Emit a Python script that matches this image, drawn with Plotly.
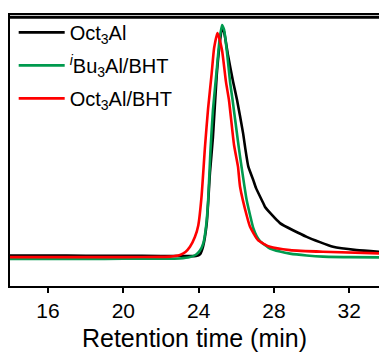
import plotly.graph_objects as go

# Retention time (min) and normalized intensity
oct3al_x = [13.98, 16.0, 18.0, 20.0, 22.0, 23.0, 23.50, 23.86, 24.07, 24.23, 24.43, 24.60, 24.76, 24.96, 25.11, 25.24,
            25.35, 25.56, 25.83, 26.04, 26.36, 26.49, 26.64, 26.90, 27.05, 27.43, 27.52, 28.32, 29.74, 31.14,
            32.39, 33.58]
oct3al_y = [0.011, 0.011, 0.010, 0.010, 0.009, 0.009, 0.008, 0.009, 0.016, 0.048, 0.150, 0.365, 0.520, 0.785, 0.914, 0.987,
            0.970, 0.870, 0.757, 0.678, 0.536, 0.464, 0.392, 0.335, 0.300, 0.236, 0.220, 0.150, 0.091, 0.048,
            0.034, 0.027]

ibu3al_bht_x = [13.98, 16.0, 18.0, 20.0, 22.0, 23.0, 23.54, 23.85, 24.07, 24.25, 24.40, 24.50, 24.63, 24.76, 24.96, 25.11, 25.24,
                25.35, 25.51, 25.67, 25.80, 26.09, 26.20, 26.55, 26.73, 26.90, 27.08, 27.26, 27.79, 28.32, 28.85,
                29.74, 30.60, 32.00, 33.58]
ibu3al_bht_y = [-0.004, -0.004, -0.004, -0.003, -0.003, -0.002, 0.004, 0.014, 0.032, 0.064, 0.140, 0.240, 0.464, 0.635, 0.807,
                0.936, 1.000, 0.980, 0.880, 0.755, 0.680, 0.500, 0.435, 0.249, 0.185, 0.129, 0.094, 0.073, 0.041,
                0.028, 0.019, 0.011, 0.006, 0.004, 0.003]

oct3al_bht_x = [13.98, 16.0, 18.0, 20.0, 22.0, 22.48, 23.01, 23.30, 23.54, 23.80, 23.98, 24.15, 24.34, 24.50, 24.69, 24.82, 25.00,
                25.24, 25.45, 25.61, 25.88, 26.09, 26.20, 26.57, 26.73, 27.15, 27.79, 28.85, 30.60, 33.58]
oct3al_bht_y = [0.004, 0.004, 0.004, 0.004, 0.005, 0.006, 0.013, 0.026, 0.048, 0.090, 0.140, 0.260, 0.480, 0.640, 0.790, 0.900, 0.966,
                0.893, 0.757, 0.678, 0.485, 0.392, 0.306, 0.177, 0.134, 0.077, 0.048, 0.034, 0.027, 0.020]

x_ticks = [16, 20, 24, 28, 32]

series = [
    ("Oct<sub>3</sub>Al", oct3al_x, oct3al_y, "#000000"),
    ("<sup><i>i</i></sup>Bu<sub>3</sub>Al/BHT", ibu3al_bht_x, ibu3al_bht_y, "#009A4E"),
    ("Oct<sub>3</sub>Al/BHT", oct3al_bht_x, oct3al_bht_y, "#FF0000"),
]

fig = go.Figure()
for i, (name, xs, ys, color) in enumerate(series):
    fig.add_trace(go.Scatter(x=xs, y=ys, mode="lines", name=name, legendgroup=f"g{i}",
                             line=dict(color=color, width=2.6, shape="spline", smoothing=0.5)))

font = "Liberation Sans, Arial, sans-serif"
fig.update_layout(
    width=379, height=352,
    margin=dict(l=10, r=0, t=15, b=66, autoexpand=False),
    plot_bgcolor="white", paper_bgcolor="white",
    font=dict(family=font, color="black"),
    showlegend=True,
    legend=dict(x=0.01, y=1.008, xanchor="left", yanchor="top", bgcolor="rgba(0,0,0,0)",
                font=dict(size=20, family=font), tracegroupgap=4, traceorder="grouped",
                itemwidth=46),
    xaxis=dict(range=[13.98, 33.58], tickvals=x_ticks, ticktext=[str(t) for t in x_ticks],
               ticks="outside", ticklen=5, tickwidth=2, tickcolor="black", automargin=False,
               showline=True, linecolor="black", linewidth=2, mirror=True,
               showgrid=False, zeroline=False, tickfont=dict(size=21, family=font),
               title=dict(text="Retention time (min)", font=dict(size=25, family=font), standoff=11)),
    yaxis=dict(range=[-0.120, 1.043], showticklabels=False, ticks="", automargin=False,
               showline=True, linecolor="black", linewidth=2, mirror=False,
               showgrid=False, zeroline=False),
    shapes=[dict(type="line", xref="paper", yref="paper", x0=-0.003, x1=1, y0=0.992, y1=0.992,
                 line=dict(color="#000000", width=3), layer="above")],
)

fig.write_html("out.html", config={"displayModeBar": False},
               post_script="document.body.style.margin='0';document.body.style.overflow='hidden';")
